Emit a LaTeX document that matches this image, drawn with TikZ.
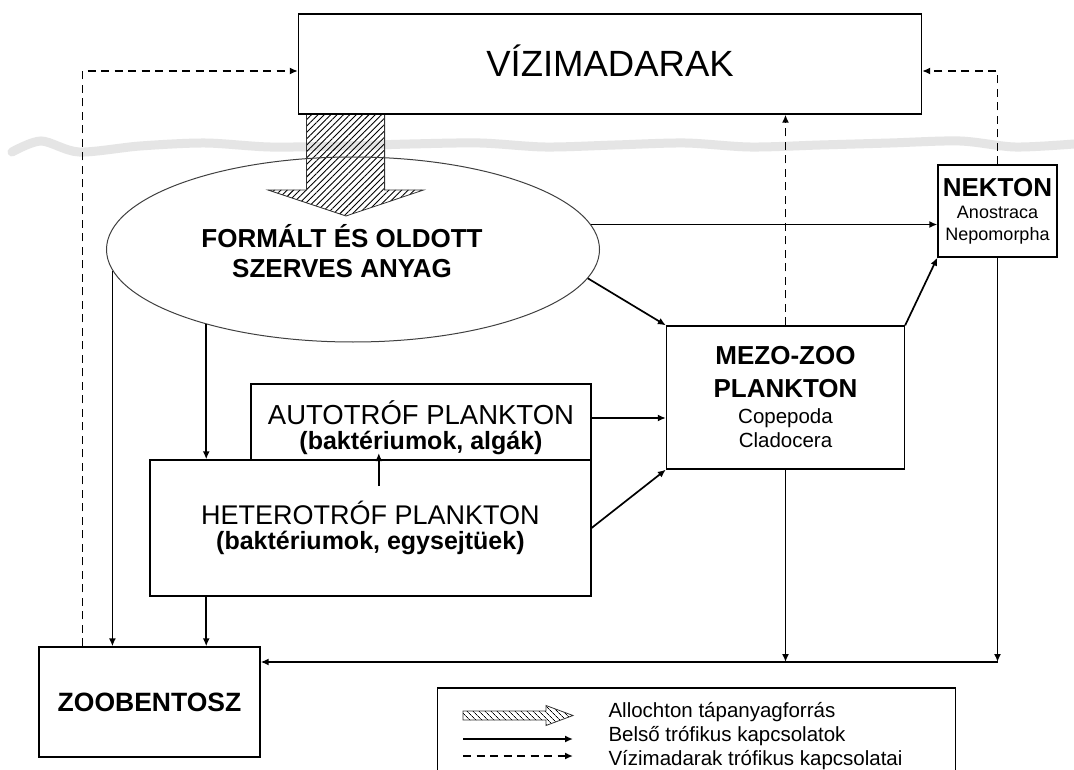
\documentclass[tikz,border=0pt]{standalone}
\usepackage{fontspec}
\setmainfont{Liberation Sans}
\usetikzlibrary{arrows.meta,shapes.geometric,patterns.meta}

\begin{document}
\begin{tikzpicture}[x=1pt,y=-1pt,
	box/.style={draw, line width=1.3pt, fill=white, inner sep=0pt, align=center},
	blob/.style={draw=black!75, ellipse, line width=1pt, inner sep=0pt,
		minimum width=493pt, minimum height=185pt},
	conn/.style={line width=1.7pt, -{Latex[length=8pt,width=7pt]}},
	birdlink/.style={conn, dash pattern=on 8pt off 5.5pt},
	hatch/.style={draw=black!80, line width=0.8pt,
		pattern={Lines[angle=45,distance=4.5pt,line width=0.9pt]}},
	wave/.style={line width=9pt, black!10, line cap=round},
	capsfont/.style={font=\fontsize{26}{30}\selectfont\bfseries},
	keyfont/.style={font=\fontsize{20.5}{24}\selectfont}]

	% ---- canvas

	\path[fill=white, use as bounding box] (0,0) rectangle (1074,770);

	% ---- water surface

	\draw[wave] plot[smooth] coordinates {(12,152) (41,141) (79,152) (140,146)
		(205,143) (270,147) (340,146) (410,144) (480,143) (545,147) (615,145)
		(685,143) (750,147) (820,145) (890,143) (960,141) (1015,147) (1074,144)};

	% ---- allochthonous input

	\draw[hatch] (306.5,114) -- (384.6,114) -- (384.6,190) -- (423.6,190)
		-- (346,216) -- (268,190) -- (306.5,190) -- cycle;

	% ---- boxes

	\node[box, minimum width=623pt, minimum height=100pt, text height=26pt,
		font=\fontsize{36.5}{40}\selectfont] (vizi) at (610,64) {VÍZIMADARAK};

	\node[box, minimum width=119pt, minimum height=92pt,
		font=\fontsize{18}{22}\selectfont] (nekton) at (997.5,211)
		{{\fontsize{26}{30}\selectfont\bfseries NEKTON}\\Anostraca\\Nepomorpha};

	\node[box, minimum width=238pt, minimum height=143pt,
		font=\fontsize{26}{33}\selectfont\bfseries] (mezo) at (785.5,397.5)
		{MEZO-ZOO\\PLANKTON\\[-7pt]{\fontsize{20.5}{24}\selectfont\mdseries Copepoda}\\[-9pt]%
		{\fontsize{20.5}{24}\selectfont\mdseries Cladocera}};

	\node[box, minimum width=340pt, minimum height=88pt,
		font=\fontsize{27.5}{25}\selectfont] (auto) at (421,428)
		{AUTOTRÓF PLANKTON\\{\fontsize{25}{25}\selectfont\bfseries (baktériumok, algák)}};

	\node[box, minimum width=441pt, minimum height=136pt,
		font=\fontsize{27}{25}\selectfont] (hetero) at (370.4,528)
		{HETEROTRÓF PLANKTON\\{\fontsize{25}{25}\selectfont\bfseries (baktériumok, egysejtüek)}};

	\node[box, minimum width=221pt, minimum height=110pt,
		font=\fontsize{26.5}{30}\selectfont\bfseries] (zoo) at (149.5,702) {ZOOBENTOSZ};

	% ---- organic matter

	\node[blob] (anyag) at (353,249.5) {};
	\node[capsfont, align=center] (anyagtext) at (342,251)
		{FORMÁLT ÉS OLDOTT\\SZERVES ANYAG};

	% ---- helper coordinates

	\coordinate (zoodash) at ([xshift=-67pt]zoo.north);
	\coordinate (sink) at (997.5,662);
	\coordinate (upfoot) at (378.8,486);
	\coordinate (uptip) at (378.8,453);

	% ---- links of the water birds

	\draw[birdlink] (zoodash) |- ([yshift=-7pt]vizi.west);
	\draw[birdlink] (nekton.north) |- ([yshift=-7pt]vizi.east);
	\draw[birdlink] (mezo.north) -- (mezo.north |- vizi.south);

	% ---- inner trophic links

	\draw[conn] (anyag.6.4) -- (anyag.6.4 -| nekton.west);
	\draw[conn] (anyag.353.9) -- (mezo.north west);
	\draw[conn] (mezo.north east) -- (nekton.south west);
	\draw[conn] (anyag.185.9) -- (anyag.185.9 |- zoo.north);
	\draw[conn] (anyag.207.6) -- (anyag.207.6 |- hetero.north);
	\draw[conn] (hetero.south -| anyag.207.6) -- (anyag.207.6 |- zoo.north);
	\draw[conn] ([yshift=10pt]auto.east) -- ([yshift=10pt]auto.east -| mezo.west);
	\draw[conn] (hetero.east) -- (mezo.south west);
	\draw[conn] (upfoot) -- (uptip);
	\draw[conn] (nekton.south) -- (sink);
	\draw[conn] (mezo.south) -- (mezo.south |- sink);
	\draw[conn] (sink) -- (sink -| zoo.east);

	% ---- legend

	\draw[line width=1.3pt] (437.3,800) |- (955.5,688) -- (955.5,800);

	\draw[hatch, pattern={Lines[angle=135,distance=4pt,line width=0.8pt]}]
		(463,711) -- (546,711) -- (546,705.5) -- (573,715.5) -- (546,725.5)
		-- (546,720) -- (463,720) -- cycle;

	\coordinate (key2a) at (463,739);
	\coordinate (key2b) at (573,739);
	\coordinate (key3a) at (463,756);
	\coordinate (key3b) at (573,756);

	\draw[conn] (key2a) -- (key2b);
	\draw[birdlink] (key3a) -- (key3b);

	\node[keyfont, anchor=base west] (key1) at (605,717) {Allochton tápanyagforrás};
	\node[keyfont, anchor=base west] (key2) at (605,741) {Belső trófikus kapcsolatok};
	\node[keyfont, anchor=base west] (key3) at (605,765) {Vízimadarak trófikus kapcsolatai};

\end{tikzpicture}
\end{document}
